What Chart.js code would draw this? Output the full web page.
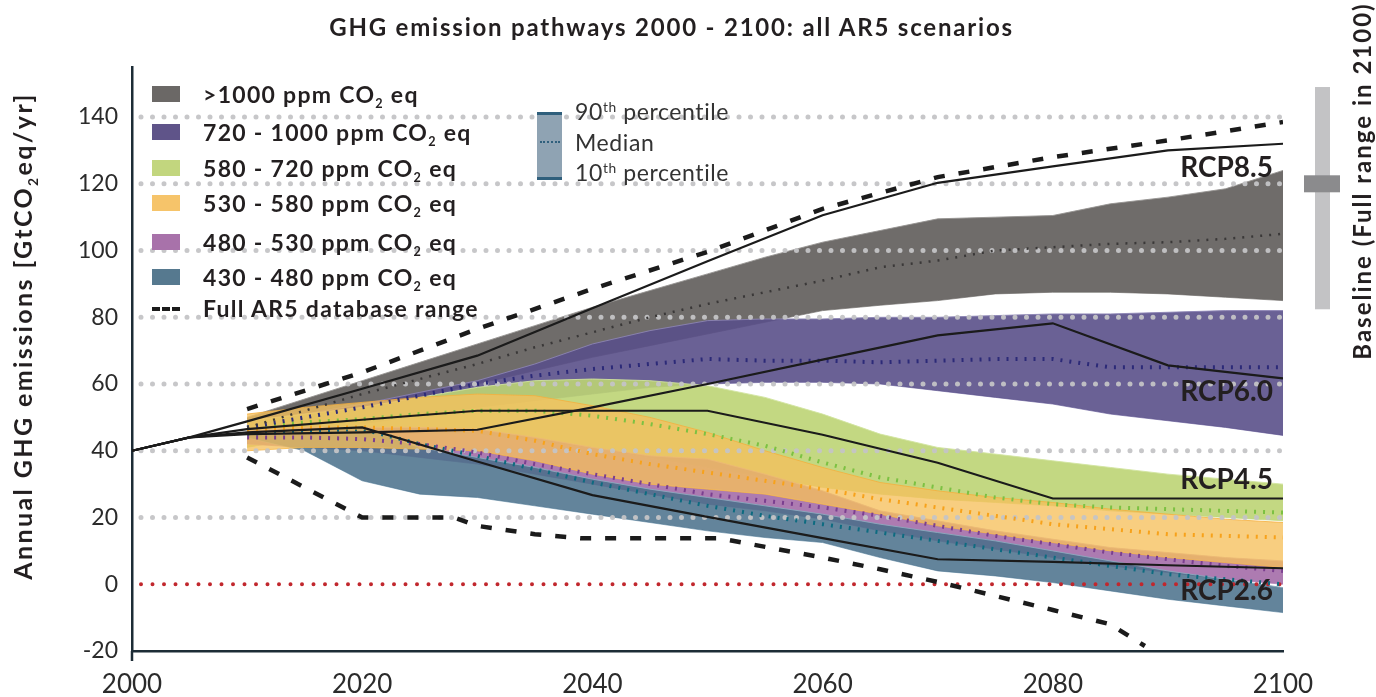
<!DOCTYPE html>
<html>
<head>
<meta charset="utf-8">
<script src="https://cdn.jsdelivr.net/npm/chart.js@4.4.1/dist/chart.umd.min.js"></script>
<style>
  body { margin: 0; background: #fff; }
  #wrap { position: relative; width: 1376px; height: 697px; overflow: hidden; font-family: Lato, "Open Sans", sans-serif; color: #231f20; }
  canvas { position: absolute; left: 0; top: 0; }
  .t { position: absolute; white-space: nowrap; }
  sub { font-size: 0.55em; vertical-align: -0.4em; line-height: 0; }
  sup { font-size: 0.6em; vertical-align: 0.6em; line-height: 0; }
  .row { position: absolute; left: 152px; height: 30px; }
  .sw { position: absolute; left: 0; top: 7px; width: 28px; height: 16px; }
  .lt { position: absolute; left: 51px; top: 0; line-height: 30px; font-weight: 700; font-size: 23px; letter-spacing: 1.3px; white-space: nowrap; }
  .pl { position: absolute; left: 575px; font-size: 23px; letter-spacing: 0.6px; line-height: 30px; color: #333; white-space: nowrap; }
  .rcp { position: absolute; right: 103px; font-size: 28px; font-weight: 700; line-height: 34px; white-space: nowrap; }
</style>
</head>
<body>
<div id="wrap">
  <canvas id="chart" width="1376" height="697"></canvas>

  <div class="t" style="left:0;width:1343px;top:12px;text-align:center;font-weight:700;font-size:24px;letter-spacing:1.8px;">GHG emission pathways 2000 - 2100: all AR5 scenarios</div>

  <div class="t" style="left:-238px;top:321px;width:520px;height:30px;line-height:30px;text-align:center;font-weight:700;font-size:25px;letter-spacing:2.4px;transform:rotate(-90deg);">Annual GHG emissions [GtCO<sub>2</sub>eq/yr]</div>

  <div class="t" style="left:1182px;top:166px;width:360px;height:30px;line-height:30px;text-align:center;font-weight:700;font-size:24px;letter-spacing:2px;transform:rotate(-90deg);">Baseline (Full range in 2100)</div>

  <div id="legend"></div>

  <div style="position:absolute;left:537px;top:112px;width:25px;height:62px;background:#8fa3b3;border-top:3px solid #2f5f7c;border-bottom:3px solid #2f5f7c;"></div>
  <div style="position:absolute;left:540px;top:141px;width:20px;border-top:2px dotted #2f5f7c;"></div>
  <div class="pl" style="top:96px;">90<sup>th</sup> percentile</div>
  <div class="pl" style="top:127px;">Median</div>
  <div class="pl" style="top:157px;">10<sup>th</sup> percentile</div>

  <div class="rcp" style="top:149px;">RCP8.5</div>
  <div class="rcp" style="top:373px;">RCP6.0</div>
  <div class="rcp" style="top:461px;">RCP4.5</div>
  <div class="rcp" style="top:572px;">RCP2.6</div>
</div>

<script>
// years used by the scenario bands
var bandYears = [2010, 2015, 2020, 2025, 2030, 2035, 2040, 2045, 2050, 2055, 2060, 2065, 2070, 2075, 2080, 2085, 2090, 2095, 2100];

// >1000 ppm
var over1000P90 = [50, 55.5, 61, 66.5, 72, 77.5, 83, 88, 93, 98, 102.5, 106, 109.5, 110, 110.5, 114, 116, 118.5, 124];
var over1000Med = [47, 52, 57, 61.5, 66, 71, 75.5, 80, 84, 87.5, 91, 95, 97, 100, 101, 102, 102.5, 103.5, 105];
var over1000P10 = [45, 48.5, 52, 56, 60, 64, 68, 71.5, 75, 78.5, 82, 83.6, 85, 87, 87.5, 87.5, 87, 86, 85];

// 720 - 1000 ppm
var ppm720P90 = [48, 51, 54, 57.5, 61, 66, 72, 76, 79, 79.5, 79.5, 80, 80, 80.5, 81, 81, 81.5, 82, 82];
var ppm720Med = [47, 50, 53, 56.5, 60, 62.5, 64.5, 66, 67.5, 67, 67, 66.5, 67, 67.5, 67.5, 65, 65, 65, 65];
var ppm720P10 = [45, 46.5, 48, 50.5, 53, 55, 57, 59, 60, 60.5, 60.5, 60, 58, 56, 54, 51, 49, 47, 44.6];

// 580 - 720 ppm
var ppm580P90 = [49, 51, 53, 56, 59, 61, 61.5, 61, 59.5, 56, 51, 45, 41, 39, 37, 35, 33, 31.5, 30];
var ppm580Med = [47, 48.5, 49.5, 51, 52, 52, 50.5, 48, 45, 41.5, 36.5, 32, 29, 26, 24, 23, 22.5, 22, 21.5];
var ppm580P10 = [41, 44, 45, 45, 45, 43, 41, 38, 35, 32, 29, 27, 25.5, 24.5, 23.5, 22, 21, 20, 19];

// 530 - 580 ppm
var ppm530P90 = [51, 53, 54.5, 56, 57, 56.5, 53.5, 50, 45.5, 40, 35, 30.5, 28, 26, 24.5, 22.5, 21, 19.5, 18.5];
var ppm530Med = [46, 47, 47, 46.5, 46, 43, 39, 36, 33.5, 31, 28.5, 25.5, 23, 20.5, 18, 16.5, 15, 14.5, 14];
var ppm530P10 = [40, 41, 41, 40.5, 40, 37, 33, 30, 28.5, 27, 24, 21, 17.5, 15, 12.5, 10, 8, 6.5, 5];

// 480 - 530 ppm
var ppm480P90 = [46, 47, 47, 47, 46.5, 44, 41, 38.5, 37.5, 33, 28, 22, 19, 16, 13.5, 11, 9.5, 8, 7];
var ppm480Med = [44, 44, 43.5, 42, 39.5, 36, 33, 30, 27, 25, 23, 20.5, 17.5, 14.5, 12, 9.5, 7.5, 5.5, 4];
var ppm480P10 = [42, 41, 40, 38, 36, 33, 30, 27, 24, 22, 19.5, 16, 13, 10.5, 8, 5.5, 3.5, 1.5, 0];

// 430 - 480 ppm
var ppm430P90 = [45, 46, 47, 41, 38, 35, 31.5, 28.5, 26, 23.5, 21, 18, 15.5, 13, 10, 7, 4, 1.5, -1];
var ppm430Med = [45, 46, 46.5, 42, 38.5, 34.5, 30.5, 27, 23.5, 20.5, 18, 15.5, 13, 10.5, 8, 5.5, 3, 1.5, 0];
var ppm430P10 = [44, 40, 31, 27, 26, 23.5, 21, 18.5, 16, 14, 12.5, 8, 4, 2.5, 0.5, -2, -4.5, -6.5, -8.5];

// RCP pathways
var rcpYears = [2000, 2005, 2010, 2020, 2030, 2040, 2050, 2060, 2070, 2080, 2090, 2100];
var rcp85 = [40, 44, 48.8, 58.6, 68.5, 82.7, 96.8, 110.6, 120.3, 125.2, 130, 132];
var rcp60 = [40, 44, 45, 45.5, 46.3, 53, 60, 67.3, 74.6, 78.2, 65.6, 61.7];
var rcp45 = [40, 44, 46.5, 49.3, 52, 52, 52, 44.8, 36.4, 25.7, 25.7, 25.7];
var rcp26 = [40, 44, 45.5, 47, 36.8, 26.7, 20.2, 13.8, 7.5, 6.7, 5.7, 4.8];

// full AR5 database range
var rangeHighYears = [2010, 2020, 2030, 2040, 2050, 2060, 2070, 2080, 2090, 2100];
var rangeHigh = [52.5, 63.5, 76.5, 88.5, 99.6, 112.5, 122, 128, 133, 138.5];
var rangeLowYears = [2010, 2015, 2020, 2028, 2030, 2035, 2039, 2051, 2060, 2065, 2070, 2080, 2085, 2088];
var rangeLow = [38, 29, 20, 20, 17.5, 15, 13.8, 13.8, 8, 4.5, 0.7, -7.7, -12, -18.5];

// baseline full range in 2100
var baselineRange = [82.4, 149];
var baselineMedian = 120;

var scenarioNames = ['>1000 ppm CO<sub>2</sub> eq', '720 - 1000 ppm CO<sub>2</sub> eq', '580 - 720 ppm CO<sub>2</sub> eq',
                     '530 - 580 ppm CO<sub>2</sub> eq', '480 - 530 ppm CO<sub>2</sub> eq', '430 - 480 ppm CO<sub>2</sub> eq'];
var swatchColors = ['#6b6866', '#5f5489', '#c2d67e', '#f6c46a', '#a872aa', '#56798f'];

function pts(xs, ys) {
    return xs.map(function (x, i) { return {x: x, y: ys[i]}; });
}

function band(hi, lo, fillColor, edge, order) {
    return [
        {data: pts(bandYears, hi), borderColor: edge, borderWidth: 1, backgroundColor: fillColor, fill: '+1', pointRadius: 0, order: order},
        {data: pts(bandYears, lo), borderColor: edge, borderWidth: 1, fill: false, pointRadius: 0, order: order}
    ];
}

function median(vals, color, width) {
    return {data: pts(bandYears, vals), borderColor: color, borderWidth: width, borderDash: [2, 7], fill: false, pointRadius: 0, order: 3};
}

function rcp(vals) {
    return {data: pts(rcpYears, vals), borderColor: '#1b1b1b', borderWidth: 2.2, fill: false, pointRadius: 0, order: 1};
}

var datasets = [];
datasets = datasets.concat(band(over1000P90, over1000P10, 'rgba(103,100,98,0.95)', 'rgba(150,147,145,0.9)', 20));
datasets = datasets.concat(band(ppm720P90, ppm720P10, 'rgba(90,80,138,0.9)', 'rgba(140,132,180,0.9)', 19));
datasets = datasets.concat(band(ppm580P90, ppm580P10, 'rgba(188,212,116,0.9)', 'rgba(210,228,160,0.9)', 18));
datasets = datasets.concat(band(ppm480P90, ppm480P10, 'rgba(166,112,170,0.92)', 'rgba(200,160,200,0.9)', 17));
datasets = datasets.concat(band(ppm430P90, ppm430P10, 'rgba(72,110,138,0.85)', 'rgba(140,170,190,0.9)', 16));
var yellowBand = band(ppm530P90, ppm530P10, 'rgba(246,192,92,0.78)', 'rgba(245,175,60,0.8)', 15);
yellowBand[0].gridAfter = true;
datasets = datasets.concat(yellowBand);

datasets.push(median(over1000Med, '#3a3838', 2.5));
datasets.push(median(ppm720Med, '#2c2a78', 4));
datasets.push(median(ppm580Med, '#7cc142', 4));
datasets.push(median(ppm530Med, '#f7a21b', 4));
datasets.push(median(ppm480Med, '#7b3f90', 4));
datasets.push(median(ppm430Med, '#0d6b80', 4));

datasets.push(rcp(rcp85));
datasets.push(rcp(rcp60));
datasets.push(rcp(rcp45));
datasets.push(rcp(rcp26));

datasets.push({data: pts(rangeHighYears, rangeHigh), borderColor: '#1b1b1b', borderWidth: 4.5, borderDash: [11, 14], fill: false, pointRadius: 0, order: 0});
datasets.push({data: pts(rangeLowYears, rangeLow), borderColor: '#1b1b1b', borderWidth: 4.5, borderDash: [11, 14], fill: false, pointRadius: 0, order: 0});

// legend
var legendRows = [94, 131.7, 168.3, 203.3, 241.7, 277.3];
var legendHtml = '';
scenarioNames.forEach(function (name, i) {
    legendHtml += '<div class="row" style="top:' + (legendRows[i] - 15) + 'px"><div class="sw" style="background:' + swatchColors[i] + '"></div><div class="lt">' + name + '</div></div>';
});
legendHtml += '<div class="row" style="top:293px"><div style="position:absolute;left:0;top:14px;width:28px;border-top:4px dashed #1b1b1b;"></div><div class="lt">Full AR5 database range</div></div>';
document.getElementById('legend').innerHTML = legendHtml;

// dotted gridlines, drawn over the bands
var dotGrid = {
    id: 'dotGrid',
    afterDatasetDraw: function (chart, args) {
        if (!chart.data.datasets[args.index].gridAfter) return;
        var ctx = chart.ctx, ys = chart.scales.y, area = chart.chartArea;
        ctx.save();
        ctx.lineCap = 'round';
        ctx.setLineDash([0, 11.5]);
        ys.ticks.forEach(function (t) {
            if (t.value <= -20) return;
            var y = ys.getPixelForValue(t.value);
            ctx.beginPath();
            ctx.lineWidth = t.value === 0 ? 4 : 5;
            ctx.strokeStyle = t.value === 0 ? '#c1272d' : 'rgba(196,196,198,0.95)';
            ctx.moveTo(area.left + 9, y);
            ctx.lineTo(area.right + 3, y);
            ctx.stroke();
        });
        ctx.restore();
    }
};

// baseline range bar on the right, plus the short stub of the y axis below the x axis
var baselineBar = {
    id: 'baselineBar',
    afterDraw: function (chart) {
        var ctx = chart.ctx, ys = chart.scales.y, area = chart.chartArea;
        var y1 = ys.getPixelForValue(baselineRange[0]);
        var y2 = ys.getPixelForValue(baselineRange[1]);
        var ym = ys.getPixelForValue(baselineMedian);
        ctx.save();
        ctx.fillStyle = '#c3c3c5';
        ctx.fillRect(1315, y2, 15, y1 - y2);
        ctx.fillStyle = '#8b8b8d';
        ctx.fillRect(1304, ym - 8.5, 36, 17);
        ctx.strokeStyle = '#1d2c36';
        ctx.lineWidth = 2.5;
        ctx.beginPath();
        ctx.moveTo(area.left, area.bottom);
        ctx.lineTo(area.left, area.bottom + 10);
        ctx.stroke();
        ctx.restore();
    }
};

var chart = new Chart(document.getElementById('chart').getContext('2d'), {
    type: 'line',
    data: {datasets: datasets},
    options: {
        responsive: false,
        animation: false,
        layout: {padding: {top: 67, right: 93, left: 0, bottom: 0}},
        elements: {line: {tension: 0}},
        plugins: {legend: {display: false}, tooltip: {enabled: false}},
        scales: {
            x: {
                type: 'linear',
                min: 2000,
                max: 2100,
                ticks: {stepSize: 20, maxRotation: 0, padding: 18, color: '#2b2b2b', font: {family: 'Lato', size: 26},
                        callback: function (v) { return String(v); }},
                grid: {display: false, drawTicks: false},
                border: {display: true, color: '#1d2c36', width: 2.5},
                afterFit: function (s) { s.height = 46; }
            },
            y: {
                min: -20,
                max: 155,
                ticks: {stepSize: 20, padding: 14, color: '#2b2b2b', font: {family: 'Lato', size: 23}},
                afterBuildTicks: function (s) { s.ticks = s.ticks.filter(function (t) { return t.value <= 140; }); },
                grid: {display: false, drawTicks: false},
                border: {display: true, color: '#1d2c36', width: 2.5},
                afterFit: function (s) { s.width = 132; }
            }
        }
    },
    plugins: [dotGrid, baselineBar]
});
</script>
</body>
</html>
